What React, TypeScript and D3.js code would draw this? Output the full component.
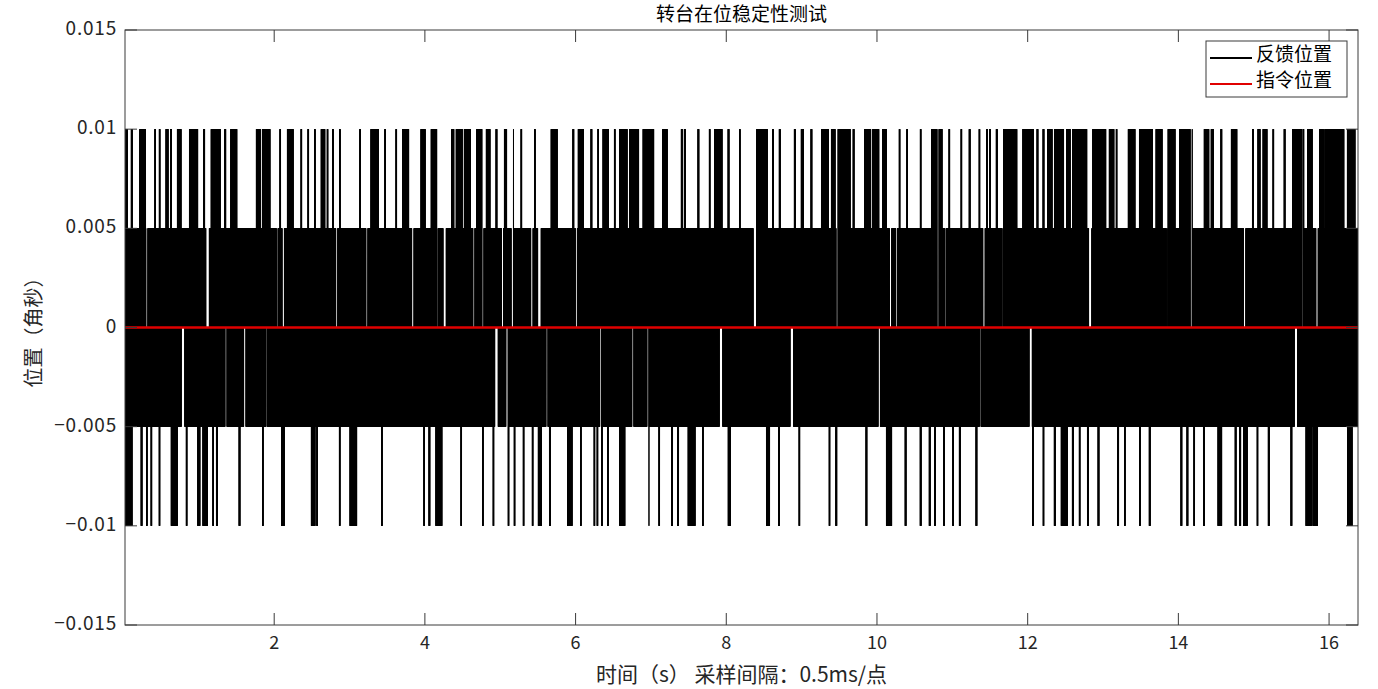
import React from 'react';
import * as d3 from 'd3';

const title = '转台在位稳定性测试';
const xLabel = '时间（s） 采样间隔：0.5ms/点';
const yLabel = '位置（角秒）';
const legendLabels = ['反馈位置', '指令位置'];
const xTicks = [2, 4, 6, 8, 10, 12, 14, 16];
const yTicks = [-0.015, -0.01, -0.005, 0, 0.005, 0.01, 0.015];

// time span of the record (s) and plotted sample step
const timeSpan: [number, number] = [0.02, 16.384];
const sampleStep = 0.002;

// feedback chatters between these quantisation levels (arc-sec)
const chatterLevel = 0.005;
const spikeLevel = 0.01;
const commandLevel = 0;

// times (s) where feedback reaches +0.01, [start, end]
const upSpikes: [number, number][] = [
  [0.03, 0.05], [0.11, 0.11], [0.22, 0.29], [0.42, 0.42], [0.48, 0.48], [0.57, 0.57], [0.59, 0.59],
  [0.63, 0.63], [0.72, 0.76], [0.88, 0.98], [1.07, 1.07], [1.17, 1.28], [1.35, 1.35], [1.43, 1.5],
  [1.77, 1.81], [1.85, 1.94], [2.08, 2.08], [2.18, 2.25], [2.36, 2.36], [2.45, 2.45], [2.54, 2.54],
  [2.63, 2.67], [2.71, 2.71], [2.78, 2.78], [2.87, 2.87], [3.14, 3.14], [3.29, 3.38], [3.47, 3.47],
  [3.62, 3.62], [3.71, 3.78], [3.95, 4.0], [4.09, 4.15], [4.36, 4.38], [4.42, 4.49], [4.53, 4.6],
  [4.69, 4.75], [4.82, 4.86], [4.95, 4.95], [5.06, 5.08], [5.17, 5.17], [5.28, 5.28], [5.46, 5.46],
  [5.68, 5.75], [5.97, 5.97], [6.04, 6.1], [6.21, 6.21], [6.3, 6.3], [6.37, 6.43], [6.52, 6.52],
  [6.59, 6.68], [6.72, 6.83], [6.9, 7.03], [7.16, 7.21], [7.41, 7.41], [7.45, 7.45], [7.63, 7.63],
  [7.78, 7.78], [7.85, 7.94], [8.03, 8.03], [8.18, 8.18], [8.41, 8.54], [8.62, 8.62], [8.71, 8.71],
  [8.91, 8.91], [9.0, 9.02], [9.13, 9.13], [9.27, 9.35], [9.4, 9.44], [9.49, 9.64], [9.69, 9.69],
  [9.84, 9.91], [9.95, 10.02], [10.08, 10.12], [10.3, 10.3], [10.4, 10.4], [10.58, 10.58],
  [10.73, 10.86], [10.96, 10.96], [11.12, 11.12], [11.23, 11.23], [11.36, 11.36], [11.46, 11.46],
  [11.5, 11.5], [11.59, 11.59], [11.68, 11.85], [11.94, 12.07], [12.13, 12.13], [12.21, 12.21],
  [12.27, 12.32], [12.36, 12.47], [12.52, 12.56], [12.6, 12.67], [12.69, 12.78], [12.87, 12.94],
  [12.96, 13.03], [13.09, 13.14], [13.18, 13.18], [13.34, 13.42], [13.49, 13.56], [13.58, 13.65],
  [13.71, 13.78], [13.87, 13.91], [13.93, 13.95], [14.02, 14.15], [14.18, 14.18], [14.35, 14.4],
  [14.44, 14.46], [14.57, 14.57], [14.71, 14.77], [14.99, 14.99], [15.06, 15.08], [15.13, 15.17],
  [15.26, 15.26], [15.41, 15.41], [15.52, 15.66], [15.72, 15.77], [15.88, 15.92], [15.95, 15.99],
  [16.01, 16.08], [16.1, 16.19], [16.25, 16.34],
];

// times (s) where feedback reaches -0.01
const downSpikes: [number, number][] = [
  [0.02, 0.11], [0.24, 0.24], [0.31, 0.31], [0.37, 0.37], [0.48, 0.48], [0.64, 0.71], [0.84, 0.84],
  [0.99, 1.01], [1.06, 1.11], [1.19, 1.19], [1.24, 1.24], [1.54, 1.54], [1.85, 1.85], [2.1, 2.13],
  [2.5, 2.54], [2.57, 2.57], [2.87, 2.87], [3.01, 3.09], [3.43, 3.43], [3.99, 3.99], [4.06, 4.06],
  [4.15, 4.22], [4.48, 4.48], [4.77, 4.77], [4.91, 4.91], [5.11, 5.11], [5.19, 5.19], [5.31, 5.31],
  [5.43, 5.43], [5.51, 5.54], [5.66, 5.66], [5.9, 5.95], [6.07, 6.07], [6.25, 6.25], [6.29, 6.29],
  [6.35, 6.35], [6.43, 6.43], [6.59, 6.65], [6.97, 6.97], [7.11, 7.11], [7.28, 7.28], [7.36, 7.36],
  [7.5, 7.58], [7.69, 7.69], [8.03, 8.05], [8.54, 8.57], [8.7, 8.7], [8.97, 8.97], [9.37, 9.37],
  [9.46, 9.46], [9.86, 9.86], [10.13, 10.19], [10.38, 10.38], [10.58, 10.58], [10.7, 10.7],
  [10.77, 10.77], [10.89, 10.89], [11.01, 11.01], [11.1, 11.1], [11.32, 11.32], [12.07, 12.07],
  [12.21, 12.21], [12.36, 12.36], [12.45, 12.52], [12.6, 12.6], [12.69, 12.69], [12.8, 12.8],
  [12.94, 12.94], [13.2, 13.2], [13.29, 13.29], [13.49, 13.49], [13.62, 13.62], [14.04, 14.04],
  [14.12, 14.12], [14.21, 14.21], [14.34, 14.34], [14.53, 14.57], [14.76, 14.76], [14.82, 14.82],
  [14.87, 14.91], [15.05, 15.05], [15.2, 15.2], [15.5, 15.5], [15.7, 15.76], [15.79, 15.84],
  [16.25, 16.3],
];

// stretches (s) where feedback never goes above zero
const upperGaps: [number, number][] = [
  [0.297, 0.323], [1.095, 1.14], [2.031, 2.049], [2.107, 2.133], [2.817, 2.843], [3.217, 3.243],
  [3.827, 3.853], [4.161, 4.179], [4.24, 4.28], [4.637, 4.663], [4.757, 4.783], [5.017, 5.043],
  [5.147, 5.173], [5.407, 5.433], [5.5, 5.54], [5.997, 6.023], [8.36, 8.4], [9.457, 9.483],
  [10.167, 10.193], [10.251, 10.269], [10.797, 10.823], [10.901, 10.919], [11.407, 11.433],
  [11.661, 11.679], [12.81, 12.85], [13.841, 13.859], [14.157, 14.183], [14.867, 14.893],
  [15.641, 15.659], [15.827, 15.853],
];

// stretches (s) where feedback never goes below zero
const lowerGaps: [number, number][] = [
  [0.77, 0.81], [1.347, 1.373], [1.597, 1.623], [1.891, 1.909], [4.93, 4.97], [5.077, 5.103],
  [5.607, 5.633], [6.321, 6.339], [6.747, 6.773], [6.947, 6.973], [7.91, 7.95], [8.85, 8.89],
  [10.017, 10.043], [11.361, 11.379], [12.02, 12.06], [15.54, 15.58],
];

const W = 1378;
const H = 689;
const margin = { top: 30, right: 20, bottom: 64, left: 125 };
const font = '"Noto Sans CJK SC", "Noto Sans", sans-serif';
const axisColor = '#3a3a3a';

const inRanges = (t: number, ranges: [number, number][], pad: number) =>
  ranges.some(([a, b]) => t >= a - pad && t <= b + pad);

function buildFeedback(): [number, number][] {
  const n = Math.round((timeSpan[1] - timeSpan[0]) / sampleStep);
  const pts: [number, number][] = [];
  for (let i = 0; i <= n; i++) {
    const t = timeSpan[0] + i * sampleStep;
    const positive = i % 2 === 0;
    let v: number;
    if (positive) {
      v = inRanges(t, upSpikes, 0.006) ? spikeLevel : chatterLevel;
      if (inRanges(t, upperGaps, 0)) v = 0;
    } else {
      v = inRanges(t, downSpikes, 0.006) ? -spikeLevel : -chatterLevel;
      if (inRanges(t, lowerGaps, 0)) v = 0;
    }
    pts.push([t, v]);
  }
  return pts;
}

export default function App() {
  const x0 = margin.left;
  const x1 = W - margin.right;
  const y0 = margin.top;
  const y1 = H - margin.bottom;

  const x = d3.scaleLinear().domain(timeSpan).range([x0, x1]);
  const y = d3.scaleLinear().domain([-0.015, 0.015]).range([y1, y0]);

  const feedback = React.useMemo(buildFeedback, []);
  const line = d3.line<[number, number]>().x(d => x(d[0])).y(d => y(d[1]));
  const commandPath = line([[timeSpan[0], commandLevel], [timeSpan[1], commandLevel]]) || '';
  const feedbackPath = line(feedback) || '';

  const tickLen = 12;
  const fmt = (v: number) => (v === 0 ? '0' : String(v).replace('-', '−'));

  const lx = 1206;
  const ly = 41;

  return (
    <svg width={W} height={H} style={{ position: 'absolute', left: 0, top: 0, background: '#fff' }} fontFamily={font}>
      <defs>
        <clipPath id="plot">
          <rect x={x0} y={y0} width={x1 - x0} height={y1 - y0} />
        </clipPath>
      </defs>
      <rect x={0} y={0} width={W} height={H} fill="#fff" />
      <g clipPath="url(#plot)">
        <path d={feedbackPath} fill="none" stroke="#000" strokeWidth={1} />
        <path d={commandPath} fill="none" stroke="#e00000" strokeWidth={2.4} />
      </g>

      {/* axes box and inward ticks */}
      <rect x={x0} y={y0} width={x1 - x0} height={y1 - y0} fill="none" stroke={axisColor} strokeWidth={1} />
      {xTicks.map(t => (
        <g key={'x' + t}>
          <line x1={x(t)} x2={x(t)} y1={y1} y2={y1 - tickLen} stroke={axisColor} />
          <line x1={x(t)} x2={x(t)} y1={y0} y2={y0 + tickLen} stroke={axisColor} />
          <text x={x(t)} y={y1 + 19} textAnchor="middle" dominantBaseline="middle" fontSize={18} fill="#262626">
            {t}
          </text>
        </g>
      ))}
      {yTicks.map(t => (
        <g key={'y' + t}>
          <line x1={x0} x2={x0 + tickLen} y1={y(t)} y2={y(t)} stroke={axisColor} />
          <line x1={x1} x2={x1 - tickLen} y1={y(t)} y2={y(t)} stroke={axisColor} />
          <text x={x0 - 8} y={y(t)} textAnchor="end" dominantBaseline="middle" fontSize={19} fill="#262626" letterSpacing={0.8}>
            {fmt(t)}
          </text>
        </g>
      ))}

      <text x={(x0 + x1) / 2} y={16} textAnchor="middle" dominantBaseline="middle" fontSize={19} fill="#000">
        {title}
      </text>
      <text x={(x0 + x1) / 2} y={676} textAnchor="middle" dominantBaseline="middle" fontSize={21} fill="#262626">
        {xLabel}
      </text>
      <text
        transform={`translate(36,${(y0 + y1) / 2}) rotate(-90)`}
        textAnchor="middle"
        dominantBaseline="middle"
        fontSize={20}
        fill="#262626"
      >
        {yLabel}
      </text>

      {/* legend */}
      <rect x={lx} y={ly} width={141} height={56} fill="#fff" stroke={axisColor} strokeWidth={1} />
      {legendLabels.map((label, i) => (
        <g key={label}>
          <line
            x1={lx + 4}
            x2={lx + 46}
            y1={ly + 17 + i * 26}
            y2={ly + 17 + i * 26}
            stroke={i === 0 ? '#000' : '#e00000'}
            strokeWidth={2}
          />
          <text x={lx + 50} y={ly + 15 + i * 26} dominantBaseline="middle" fontSize={19} fill="#000">
            {label}
          </text>
        </g>
      ))}
    </svg>
  );
}
